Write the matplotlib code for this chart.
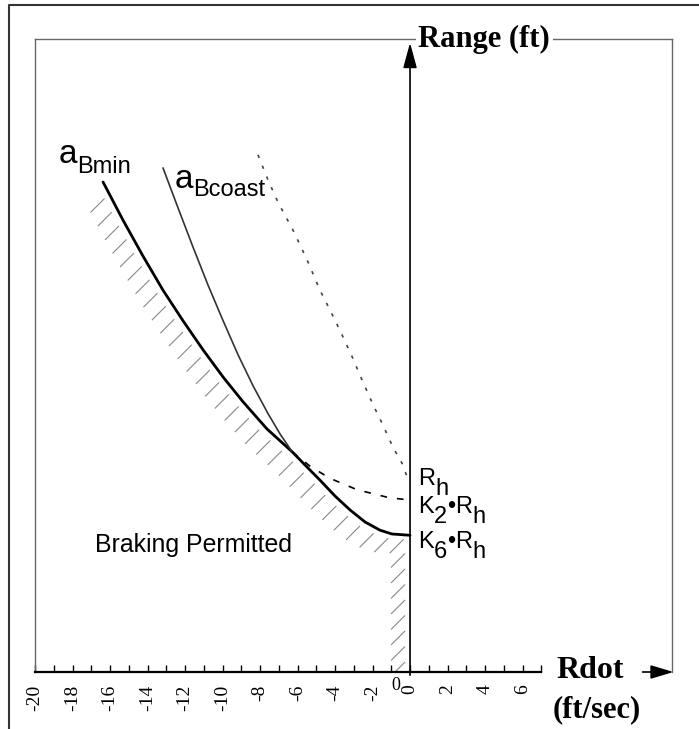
import matplotlib
matplotlib.use("Agg")
import matplotlib.pyplot as plt
import numpy as np
from matplotlib.collections import LineCollection
from matplotlib.lines import Line2D

# Rdot (ft/sec) vs Range (ft)
bmin_rdot = [-16.37, -15.31, -14.24, -13.17, -12.11, -11.04, -9.97, -8.91, -7.63,
             -6.29, -5.6, -4.8, -4.0, -3.2, -2.4, -1.6, -0.96, 0.0]
bmin_range = [77.4, 71.4, 65.7, 60.3, 55.5, 50.9, 46.6, 42.7, 38.4,
              34.8, 32.7, 30.3, 27.8, 25.6, 23.7, 22.4, 21.8, 21.6]

coast_rdot = [-13.17, -12.37, -11.57, -10.77, -9.97, -9.17, -8.37, -7.57, -6.93, -6.29]
coast_range = [79.6, 73.3, 67.1, 61.1, 55.5, 50.1, 45.2, 40.8, 37.6, 34.8]

k2_rdot = [-6.29, -5.33, -4.27, -2.83, -1.07, -0.05]
k2_range = [34.8, 32.5, 30.6, 28.8, 27.5, 27.2]

rh_rdot = [-8.11, -7.57, -7.04, -6.24, -5.49, -4.8, -4.27, -3.68, -3.09, -2.51,
           -1.97, -1.49, -0.91, -0.43, -0.05]
rh_range = [81.7, 77.7, 74.2, 69.8, 65.1, 60.3, 57.2, 53.6, 49.8, 45.8,
            42.2, 39.3, 35.5, 33.0, 30.0]

xtick_vals = list(range(-20, 7, 2))
xtick_text = [str(v) for v in xtick_vals]

serif = "Liberation Serif"
sans = "Liberation Sans"

fig = plt.figure(figsize=(6.99, 7.29), dpi=100)
ax = fig.add_axes([35 / 699, 57 / 729, 637 / 699, 633 / 729])
ax.set_xlim(-20, 13.97)
ax.set_ylim(0, 100)

for side in ["left", "right", "top"]:
    ax.spines[side].set_color("#666666")
    ax.spines[side].set_linewidth(1.0)
ax.spines["bottom"].set_bounds(-20, 7)
ax.spines["bottom"].set_linewidth(1.6)
ax.set_yticks([])
ax.set_xticks(xtick_vals)
ax.set_xticklabels(xtick_text, rotation=90, family=serif, fontsize=14, va="top")
ax.set_xticks(list(range(-19, 8, 2)), minor=True)
ax.tick_params(axis="x", which="both", direction="in", length=5, width=1, pad=9)

# outer frame
fig.add_artist(Line2D([9 / 699, 9 / 699, 1.0], [0.0, 1 - 5 / 729, 1 - 5 / 729],
                      color="#333333", lw=1.5))

# curves
ax.plot(bmin_rdot, bmin_range, color="black", lw=2.0, solid_capstyle="round")
ax.plot(coast_rdot, coast_range, color="#333333", lw=1.2)
ax.plot(k2_rdot, k2_range, color="black", lw=1.2, ls=(0, (4, 6)))
ax.plot(rh_rdot, rh_range, color="#444444", lw=1.2, ls=(0, (2, 5)))

# hatching along the braking boundary (curve, then down the range axis)
bx = np.array(bmin_rdot + [0.0, 0.0])
by = np.array(bmin_range + [0.0, -3.0])
pts = ax.transData.transform(np.column_stack([bx, by]))
seg_len = np.hypot(*np.diff(pts, axis=0).T)
arc = np.concatenate([[0], np.cumsum(seg_len)])
s = np.arange(14, arc[-1], 15.5)
hx = np.interp(s, arc, pts[:, 0])
hy = np.interp(s, arc, pts[:, 1])
off = np.array([-5, -4])
d = np.array([-14, -14])
starts = np.column_stack([hx, hy]) + off
ends = starts + d
inv = ax.transData.inverted()
segs = [inv.transform(np.array([a, b])) for a, b in zip(starts, ends)]
ax.add_collection(LineCollection(segs, colors="#888888", linewidths=0.8))

# axes arrows
ax.annotate("", xy=(0, 99.4), xytext=(0, -0.5),
            arrowprops=dict(arrowstyle="-|>,head_length=1.1,head_width=0.3",
                            color="black", lw=1.2, mutation_scale=14,
                            shrinkA=0, shrinkB=0))
ax.annotate("", xy=(14.05, 0), xytext=(12.4, 0), annotation_clip=False,
            arrowprops=dict(arrowstyle="-|>,head_length=1.0,head_width=0.3",
                            color="black", lw=1.2, mutation_scale=14,
                            shrinkA=0, shrinkB=0))

ax.text(0.45, 100, "Range (ft)", family=serif, fontweight="bold", fontsize=22,
        va="center", ha="left", clip_on=False,
        bbox=dict(facecolor="white", edgecolor="none", pad=2))
ax.text(7.8, 0.2, "Rdot", family=serif, fontweight="bold", fontsize=23,
        va="center", ha="left", clip_on=False)
ax.text(7.6, -5.9, "(ft/sec)", family=serif, fontweight="bold", fontsize=22,
        va="center", ha="left", clip_on=False)
ax.text(-0.75, -0.8, "0", family=serif, fontsize=13, va="top", ha="center",
        clip_on=False)

ax.text(-16.8, 20.1, "Braking Permitted", family=sans, fontsize=17.9,
        va="center", ha="left")

renderer = fig.canvas.get_renderer()


def rich_label(x, y, parts):
    dx = 0.0
    for txt, size, dy in parts:
        t = ax.annotate(txt, (x, y), xytext=(dx, dy), textcoords="offset points",
                        family=sans, fontsize=size, va="baseline", ha="left")
        dx += t.get_window_extent(renderer).width * 72 / fig.dpi


rich_label(-18.72, 80.4, [("a", 24, 0), ("Bmin", 17, -7)])
rich_label(-12.53, 76.5, [("a", 24, 0), ("Bcoast", 17, -6)])
rich_label(0.43, 29.5, [("R", 17, 0), ("h", 17, -7)])
rich_label(0.43, 25.1, [("K", 17, 0), ("2", 17, -7), ("\u2022", 17, 0),
                        ("R", 17, 0), ("h", 17, -7)])
rich_label(0.43, 19.6, [("K", 17, 0), ("6", 17, -7), ("\u2022", 17, 0),
                        ("R", 17, 0), ("h", 17, -7)])

fig.savefig("out.png", dpi=100)
